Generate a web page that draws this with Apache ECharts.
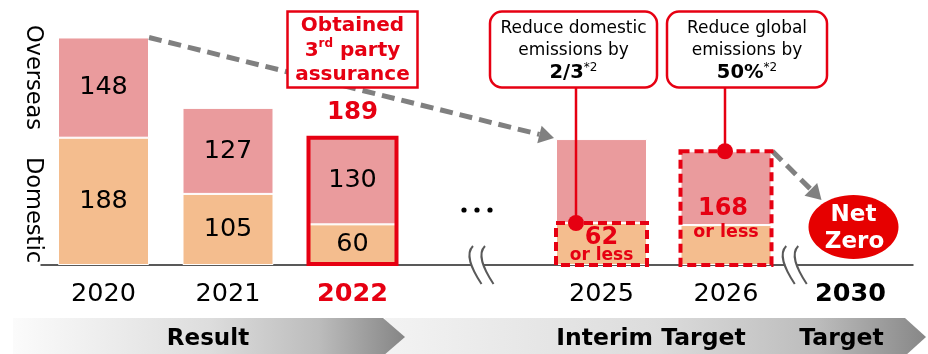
<!DOCTYPE html>
<html>
<head>
<meta charset="utf-8">
<script src="https://cdn.jsdelivr.net/npm/echarts@6/dist/echarts.min.js"></script>
<style>
  html, body { margin: 0; padding: 0; background: #fff; }
  #chart { width: 928px; height: 354px; }
</style>
</head>
<body>
<div id="chart"></div>
<script>
// GHG emissions (kt-CO2): results 2020-2022, interim targets 2025/2026, target 2030
const years = ['2020', '2021', '2022', '', '2025', '2026', '2030'];
const domestic = [188, 105, 60, null, 62, 59, null];
const overseas = [148, 127, 130, null, 124, 109, null];
const total2022 = 189;          // assured total for 2022
const target2025Domestic = 62;  // "62 or less"
const target2026Global = 168;   // "168 or less"
const labelledYears = [0, 1, 2];  // bars whose segments carry value labels

const FONT = '"DejaVu Sans", Verdana, sans-serif';
const RED = '#E60012';
const ARROW_GRAY = '#808080';
const COL_DOM = '#F4BD8E';
const COL_OVS = '#EA9B9D';
const BAR_W = 91;

const chart = echarts.init(document.getElementById('chart'), null, { renderer: 'canvas' });

function segData(arr) {
  return arr.map((v, i) => ({
    value: v,
    label: { show: labelledYears.includes(i) }
  }));
}

const barLabel = {
  position: 'inside',
  fontSize: 25.5,
  fontFamily: FONT,
  color: '#000'
};

chart.setOption({
  animation: false,
  grid: { left: 41.25, right: 15.25, top: 28, bottom: 89, outerBoundsMode: 'none' },
  xAxis: {
    type: 'category',
    data: years,
    axisTick: { show: false },
    axisLine: { lineStyle: { color: '#595959', width: 2 } },
    axisLabel: {
      margin: 16,
      fontSize: 25.5,
      fontFamily: FONT,
      color: '#000',
      interval: 0,
      formatter: v => v === '2022' ? '{r|2022}' : v === '2030' ? '{b|2030}' : v,
      rich: {
        r: { color: RED, fontWeight: 'bold', fontSize: 25.5, fontFamily: FONT },
        b: { color: '#000', fontWeight: 'bold', fontSize: 25.5, fontFamily: FONT }
      }
    }
  },
  yAxis: { type: 'value', min: 0, max: 350, show: false },
  series: [
    {
      name: 'Domestic', type: 'bar', stack: 'total', barWidth: BAR_W,
      data: segData(domestic),
      itemStyle: { color: COL_DOM, borderColor: '#fff', borderWidth: 1 },
      label: barLabel
    },
    {
      name: 'Overseas', type: 'bar', stack: 'total', barWidth: BAR_W,
      data: segData(overseas),
      itemStyle: { color: COL_OVS, borderColor: '#fff', borderWidth: 1 },
      label: barLabel
    }
  ]
});

const px = (i, v) => chart.convertToPixel({ xAxisIndex: 0, yAxisIndex: 0 }, [i, v]);
const stackTop = i => (domestic[i] || 0) + (overseas[i] || 0);
const half = BAR_W / 2;

function text(x, y, str, size, o = {}) {
  return {
    type: 'text', x, y, rotation: o.rotation || 0, z: o.z || 120,
    style: Object.assign({
      text: str, x: 0, y: 0,
      fontSize: size, fontFamily: FONT,
      fontWeight: o.bold ? 'bold' : 'normal',
      fill: o.color || '#000',
      align: 'center', verticalAlign: 'middle',
      textAlign: 'center', textVerticalAlign: 'middle'
    }, o.style || {})
  };
}

function dashedArrow(sx, sy, tx, ty, z) {
  const dx = tx - sx, dy = ty - sy, len = Math.hypot(dx, dy);
  const ux = dx / len, uy = dy / len, nx = -uy, ny = ux;
  const head = 15, hw = 9;
  const bx = tx - ux * head, by = ty - uy * head;
  return [
    { type: 'line', z, shape: { x1: sx, y1: sy, x2: bx, y2: by },
      style: { stroke: ARROW_GRAY, lineWidth: 5, lineDash: [13, 7] } },
    { type: 'polygon', z, shape: { points: [[tx, ty], [bx + nx * hw, by + ny * hw], [bx - nx * hw, by - ny * hw]] },
      style: { fill: ARROW_GRAY } }
  ];
}

function breakMark(xc, axisY) {
  const els = [{ type: 'rect', z: 110, shape: { x: xc - 6, y: axisY - 3, width: 11, height: 6 }, style: { fill: '#fff' } }];
  [xc - 5, xc + 7].forEach(tx => {
    els.push({
      type: 'bezierCurve', z: 111,
      shape: { x1: tx, y1: axisY - 19, cpx1: tx - 8, cpy1: axisY - 11, cpx2: tx - 2, cpy2: axisY + 3, x2: tx + 8.5, y2: axisY + 19 },
      style: { stroke: '#595959', lineWidth: 2, fill: null }
    });
  });
  return els;
}

function banner(x0, x1, tipX, stops, z) {
  return {
    type: 'polygon', z,
    shape: { points: [[x0, 318], [x1, 318], [tipX, 337], [x1, 356], [x0, 356]] },
    style: {
      fill: {
        type: 'linear', x: 0, y: 0, x2: 1, y2: 0,
        colorStops: stops.map(([o, c]) => ({ offset: o, color: c }))
      }
    }
  };
}

function draw() {
  const els = [];
  const axisY = px(0, 0)[1];

  // vertical series names
  els.push(text(33, 77.5, 'Overseas', 22.5, { rotation: -Math.PI / 2 }));
  els.push(text(33, 210, 'Domestic', 22.5, { rotation: -Math.PI / 2 }));

  // 2022: assured result, outlined
  const p22 = px(2, stackTop(2));
  els.push({ type: 'rect', z: 115,
    shape: { x: p22[0] - half + 1.5, y: p22[1] + 1.5, width: BAR_W - 3, height: axisY - p22[1] - 2.5 },
    style: { fill: null, stroke: RED, lineWidth: 4 } });
  els.push(text(p22[0], px(2, total2022)[1] - 24, String(total2022), 24.5, { bold: true, color: RED }));

  // "Obtained 3rd party assurance" box
  els.push({ type: 'rect', z: 115, shape: { x: p22[0] - 65, y: 11.5, width: 130, height: 76 },
    style: { fill: '#fff', stroke: RED, lineWidth: 2.5 } });
  els.push(text(p22[0], 50.5, '{m|Obtained}\n{m|3}{s|rd}{m| party}\n{m|assurance}', 20, {
    bold: true, color: RED,
    style: { rich: {
      m: { fontSize: 20, fontWeight: 'bold', fontFamily: FONT, color: RED, lineHeight: 24.5 },
      s: { fontSize: 12, fontWeight: 'bold', fontFamily: FONT, color: RED, lineHeight: 17, verticalAlign: 'top' }
    } }
  }));

  // trend arrow from 2020 to 2025
  const p20 = px(0, stackTop(0));
  const p25 = px(4, stackTop(4));
  dashedArrow(p20[0] + half, p20[1], p25[0] - half - 2, p25[1] - 1, 105).forEach(e => els.push(e));

  // "..." between result and targets
  const pGap = px(3, 0);
  [-13, 0, 13].forEach(d => els.push({ type: 'circle', z: 120, shape: { cx: pGap[0] + d, cy: 210, r: 2.6 }, style: { fill: '#000' } }));

  // 2025 domestic target
  const pd25 = px(4, target2025Domestic);
  els.push({ type: 'rect', z: 115,
    shape: { x: p25[0] - half, y: pd25[1], width: BAR_W, height: axisY - pd25[1] },
    style: { fill: null, stroke: RED, lineWidth: 4, lineDash: [9, 5] } });
  els.push(text(p25[0], pd25[1] + 14.5, String(target2025Domestic), 24, { bold: true, color: RED }));
  els.push(text(p25[0], pd25[1] + 33, 'or less', 17, { bold: true, color: RED }));

  // callout: domestic reduction
  const c1x = p25[0] - 28;
  els.push({ type: 'rect', z: 115, shape: { x: c1x - 83.5, y: 11.5, width: 167, height: 76, r: 12 },
    style: { fill: '#fff', stroke: RED, lineWidth: 2.5 } });
  els.push(text(c1x, 51, '{n|Reduce domestic}\n{n|emissions by}\n{b|2/3}{s|*2}', 17, {
    style: { rich: {
      n: { fontSize: 17, fontFamily: FONT, color: '#000', lineHeight: 22 },
      b: { fontSize: 19.5, fontWeight: 'bold', fontFamily: FONT, color: '#000', lineHeight: 22 },
      s: { fontSize: 12, fontFamily: FONT, color: '#333', lineHeight: 13, verticalAlign: 'top' }
    } }
  }));
  const k1x = p25[0] - 25.5;
  els.push({ type: 'line', z: 116, shape: { x1: k1x, y1: 87.5, x2: k1x, y2: pd25[1] },
    style: { stroke: RED, lineWidth: 2.5 } });
  els.push({ type: 'circle', z: 117, shape: { cx: k1x, cy: pd25[1], r: 8 }, style: { fill: RED } });

  // 2026 global target
  const p26 = px(5, target2026Global);
  els.push({ type: 'rect', z: 115,
    shape: { x: p26[0] - half, y: p26[1], width: BAR_W, height: axisY - p26[1] },
    style: { fill: null, stroke: RED, lineWidth: 4, lineDash: [9, 5] } });
  els.push(text(p26[0] - 3, p26[1] + 57.5, String(target2026Global), 24, { bold: true, color: RED }));
  els.push(text(p26[0], p26[1] + 81, 'or less', 17.5, { bold: true, color: RED }));

  const c2x = p26[0] + 21;
  els.push({ type: 'rect', z: 115, shape: { x: c2x - 80, y: 11.5, width: 160, height: 76, r: 12 },
    style: { fill: '#fff', stroke: RED, lineWidth: 2.5 } });
  els.push(text(c2x, 51, '{n|Reduce global}\n{n|emissions by}\n{b|50%}{s|*2}', 17, {
    style: { rich: {
      n: { fontSize: 17, fontFamily: FONT, color: '#000', lineHeight: 22 },
      b: { fontSize: 19.5, fontWeight: 'bold', fontFamily: FONT, color: '#000', lineHeight: 22 },
      s: { fontSize: 12, fontFamily: FONT, color: '#333', lineHeight: 13, verticalAlign: 'top' }
    } }
  }));
  const k2x = p26[0] - 1;
  els.push({ type: 'line', z: 116, shape: { x1: k2x, y1: 87.5, x2: k2x, y2: p26[1] },
    style: { stroke: RED, lineWidth: 2.5 } });
  els.push({ type: 'circle', z: 117, shape: { cx: k2x, cy: p26[1], r: 8 }, style: { fill: RED } });

  // 2030 net zero
  const p30 = px(6, 0);
  const ex = p30[0] + 3, ey = axisY - 38;
  dashedArrow(p26[0] + half + 1, p26[1], ex - 32, ey - 27, 105).forEach(e => els.push(e));
  els.push({ type: 'ellipse', z: 118, shape: { cx: ex, cy: ey, rx: 45, ry: 32 }, style: { fill: '#E60000' } });
  els.push(text(ex, ey - 12, 'Net', 23, { bold: true, color: '#fff', z: 119 }));
  els.push(text(ex + 1, ey + 15, 'Zero', 23, { bold: true, color: '#fff', z: 119 }));

  // axis breaks
  breakMark(pGap[0] + 1, axisY).forEach(e => els.push(e));
  breakMark((px(5, 0)[0] + p30[0]) / 2 + 3, axisY).forEach(e => els.push(e));

  // period banners
  els.push(banner(385, 905, 926, [[0, '#f3f3f3'], [0.5, '#dcdcdc'], [0.8, '#bcbcbc'], [1, '#878787']], 100));
  els.push(banner(13, 383, 405, [[0, '#fbfbfb'], [0.5, '#dddddd'], [0.78, '#bcbcbc'], [1, '#858585']], 101));
  els.push(text(208, 339, 'Result', 23, { bold: true, z: 121 }));
  els.push(text(651, 339, 'Interim Target', 23.5, { bold: true, z: 121 }));
  els.push(text(841.5, 339, 'Target', 23.5, { bold: true, z: 121 }));

  chart.setOption({ graphic: { elements: els } });
}

draw();
</script>
</body>
</html>
